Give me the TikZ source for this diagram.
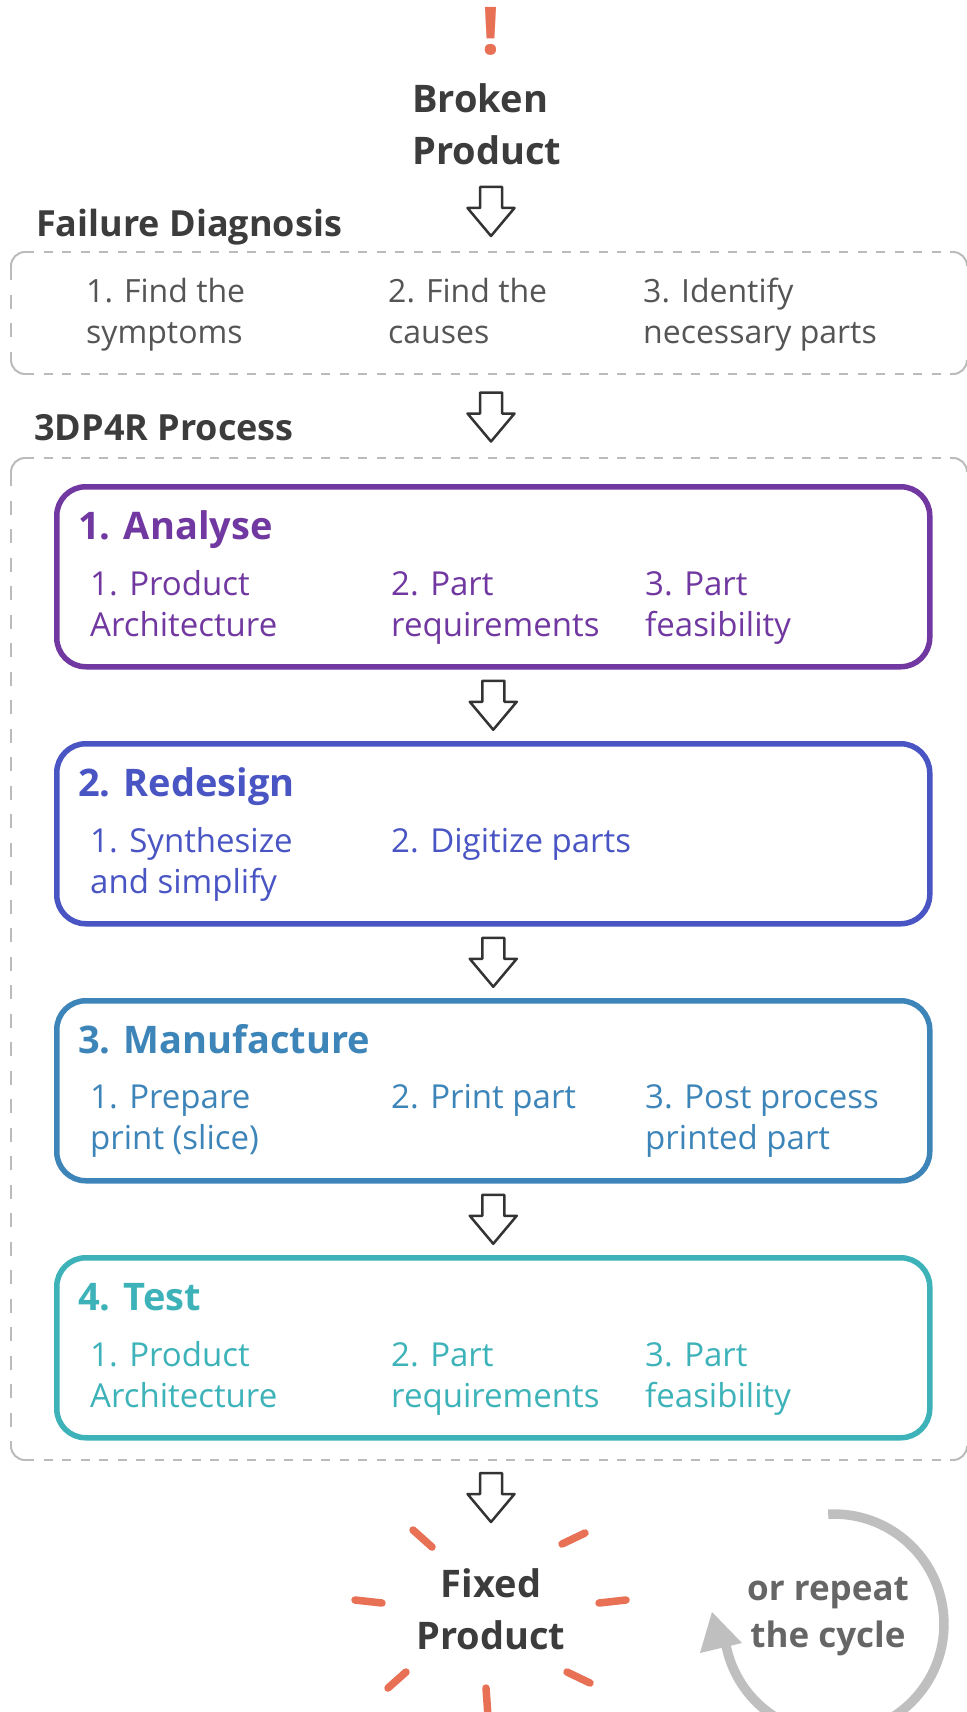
\documentclass[tikz,border=0pt]{standalone}
\usepackage{fontspec}
\setmainfont{Open Sans}
\definecolor{ink}{HTML}{3C3C3C}
\definecolor{subink}{HTML}{555555}
\definecolor{arrowink}{HTML}{333333}
\definecolor{cpurple}{HTML}{7038A0}
\definecolor{cblue}{HTML}{4A55C4}
\definecolor{csteel}{HTML}{3D85B9}
\definecolor{cteal}{HTML}{3DB3B9}
\definecolor{corange}{HTML}{E87055}
\definecolor{dashgray}{HTML}{BBBBBB}
\definecolor{arcgray}{HTML}{BFBFBF}
\definecolor{repeatgray}{HTML}{666666}
\tikzset{
  headtext/.style={font=\fontsize{38}{52}\selectfont\bfseries, text=ink, inner sep=0pt},
  sectiontext/.style={font=\fontsize{36}{44}\selectfont\bfseries, text=ink, inner sep=0pt, anchor=base west},
  fditem/.style={font=\fontsize{32}{41}\selectfont, text=subink, inner sep=0pt, anchor=base west, align=left},
  stagetitle/.style={font=\fontsize{38}{46}\selectfont\bfseries, inner sep=0pt, anchor=base west},
  stageitem/.style={font=\fontsize{33}{41}\selectfont, inner sep=0pt, anchor=base west, align=left},
  stagebox/.style={rounded corners=29pt, line width=5.5pt, anchor=north west, minimum width=873pt, minimum height=180pt, inner sep=0pt, fill=white},
  hdash/.style={draw=dashgray, line width=2pt, dash pattern=on 9pt off 9.5pt},
  vdash/.style={draw=dashgray, line width=2pt, dash pattern=on 14pt off 14.5pt},
  cornerline/.style={draw=dashgray, line width=2pt},
  burst/.style={draw=corange, line width=7.5pt, line cap=round},
  blockarrow/.pic={
    \draw[line width=2.5pt, draw=arrowink, fill=white, line join=round]
      (-11,-24.5) -- (11,-24.5) -- (11,-3.5) -- (23.5,-3.5) -- (0,24.5)
      -- (-23.5,-3.5) -- (-11,-3.5) -- cycle;
  }
}
\begin{document}
\begin{tikzpicture}[x=1pt,y=-1pt]
\useasboundingbox (0,0) rectangle (966,1712);
\fill[white] (0,0) rectangle (966,1712);

% top: broken product (multi-line nodes: base = last line)
\node[font=\fontsize{66}{66}\selectfont\bfseries, text=corange, inner sep=0pt, anchor=base] (bang) at (491,55) {!};
\node[headtext, align=left, anchor=base west] (broken) at (412,165) {Broken\\Product};
\coordinate (a1) at (491,211.5);
\pic at (a1) {blockarrow};

% failure diagnosis
\node[sectiontext] (fdlabel) at (36,237) {Failure Diagnosis};
\draw[hdash] (25,252) -- (953,252);
\draw[hdash] (25,374) -- (953,374);
\draw[vdash] (11,266) -- (11,360);
\draw[cornerline] (11,266) arc[start angle=180, end angle=270, radius=14];
\draw[cornerline] (11,360) arc[start angle=180, end angle=90, radius=14];
\draw[cornerline] (953,252) arc[start angle=-90, end angle=0, radius=14];
\draw[cornerline] (953,374) arc[start angle=90, end angle=0, radius=14];
\node[fditem] (fd1) at (86,343) {1. Find the\\symptoms};
\node[fditem] (fd2) at (388,343) {2. Find the\\causes};
\node[fditem] (fd3) at (643,343) {3. Identify\\necessary parts};
\coordinate (a2) at (491,417);
\pic at (a2) {blockarrow};

% 3DP4R process
\node[sectiontext] (proclabel) at (34,440) {3DP4R Process};
\draw[hdash] (25,458) -- (953,458);
\draw[hdash] (25,1460) -- (953,1460);
\draw[vdash] (11,472) -- (11,1446);
\draw[cornerline] (11,472) arc[start angle=180, end angle=270, radius=14];
\draw[cornerline] (11,1446) arc[start angle=180, end angle=90, radius=14];
\draw[cornerline] (953,458) arc[start angle=-90, end angle=0, radius=14];
\draw[cornerline] (953,1460) arc[start angle=90, end angle=0, radius=14];

% stage 1
\node[stagebox, draw=cpurple] (analyse) at (54,484) {};
\node[stagetitle, text=cpurple] (analyset) at (78,539) {1. Analyse};
\node[stageitem, text=cpurple] (an1) at (90,636) {1. Product\\Architecture};
\node[stageitem, text=cpurple] (an2) at (391,636) {2. Part\\requirements};
\node[stageitem, text=cpurple] (an3) at (645,636) {3. Part\\feasibility};

% stage 2
\node[stagebox, draw=cblue] (redesign) at (54,741) {};
\node[stagetitle, text=cblue] (redesignt) at (78,796) {2. Redesign};
\node[stageitem, text=cblue] (rd1) at (90,893) {1. Synthesize\\and simplify};
\node[stageitem, text=cblue] (rd2) at (391,852) {2. Digitize parts};

% stage 3
\node[stagebox, draw=csteel] (manufacture) at (54,998) {};
\node[stagetitle, text=csteel] (manufacturet) at (78,1053) {3. Manufacture};
\node[stageitem, text=csteel] (mf1) at (90,1149) {1. Prepare\\print (slice)};
\node[stageitem, text=csteel] (mf2) at (391,1108) {2. Print part};
\node[stageitem, text=csteel] (mf3) at (645,1149) {3. Post process\\printed part};

% stage 4
\node[stagebox, draw=cteal] (test) at (54,1255) {};
\node[stagetitle, text=cteal] (testt) at (78,1310) {4. Test};
\node[stageitem, text=cteal] (ts1) at (90,1407) {1. Product\\Architecture};
\node[stageitem, text=cteal] (ts2) at (391,1407) {2. Part\\requirements};
\node[stageitem, text=cteal] (ts3) at (645,1407) {3. Part\\feasibility};

\path (analyse.south) -- (redesign.north) coordinate[midway] (a3);
\path (redesign.south) -- (manufacture.north) coordinate[midway] (a4);
\path (manufacture.south) -- (test.north) coordinate[midway] (a5);
\pic at (a3) {blockarrow};
\pic at (a4) {blockarrow};
\pic at (a5) {blockarrow};
\coordinate (a6) at (491,1497.5);
\pic at (a6) {blockarrow};

% fixed product
\node[headtext, align=center, anchor=base] (fixed) at (491,1649) {Fixed\\Product};
\draw[burst] (413,1530) -- (432,1547);
\draw[burst] (562,1544) -- (585,1533);
\draw[burst] (355,1600) -- (382,1603);
\draw[burst] (599,1603) -- (626,1600);
\draw[burst] (406,1672) -- (388,1688);
\draw[burst] (567,1672) -- (590,1683);
\draw[burst] (486,1688) -- (488,1716);

% repeat cycle
\draw[draw=arcgray, line width=9.5pt] (828.2,1514.2) arc[start angle=-93, end angle=170, radius=110];
\fill[arcgray] (712,1612) -- (700,1653) -- (742,1643) -- cycle;
\node[font=\fontsize{35}{47}\selectfont\bfseries, text=repeatgray, inner sep=0pt, align=center, anchor=base] (repeat) at (828,1647) {or repeat\\the cycle};
\end{tikzpicture}
\end{document}
